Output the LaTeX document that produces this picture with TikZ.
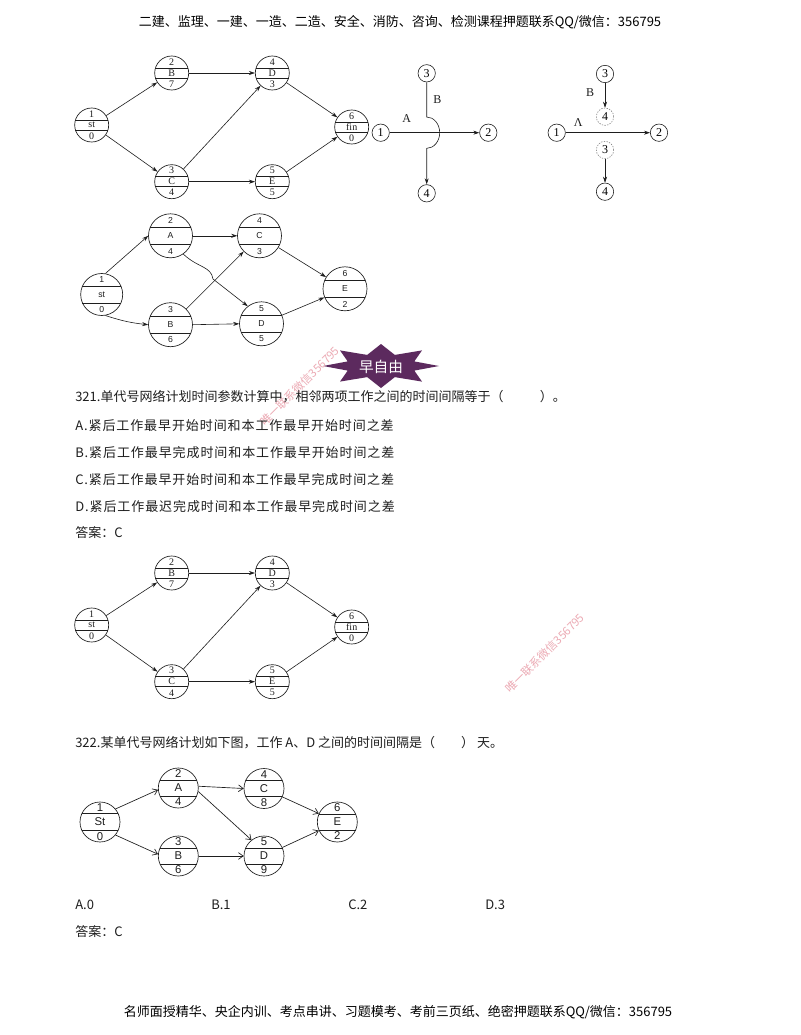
\documentclass[tikz,border=0pt]{standalone}
\usepackage{fontspec}
\newfontfamily\cjk{Noto Sans CJK SC}
\newfontfamily\cjkwide{Noto Sans CJK SC}[LetterSpace=7]
\newfontfamily\tms{Liberation Serif}
\newfontfamily\ars{Liberation Sans}
\usetikzlibrary{arrows.meta,calc}
\definecolor{starcol}{RGB}{92,42,94}
\definecolor{wmark}{RGB}{236,170,180}
\definecolor{inkc}{RGB}{30,30,30}
\tikzset{
  arrA/.style={-{Stealth[length=4.5pt,width=3pt]}, line width=0.45pt, draw=inkc},
  arrO/.style={-{Straight Barb[length=3.5pt,width=5pt]}, line width=0.5pt, draw=inkc},
  smallc/.style={draw=inkc, circle, inner sep=0pt, minimum size=13pt, line width=0.45pt, font=\tms\fontsize{9}{10}\selectfont},
  dashc/.style={smallc, draw=gray, dash pattern=on 1pt off 1pt},
  lbl/.style={inner sep=0pt, font=\tms\fontsize{9}{10}\selectfont, text=inkc},
  body/.style={anchor=west, inner sep=0pt, font=\cjk\fontsize{9.75}{11}\selectfont, text=inkc},
  bodyw/.style={anchor=west, inner sep=0pt, font=\cjkwide\fontsize{9.75}{11}\selectfont, text=inkc},
  wm/.style={rotate=45, inner sep=0pt, text=wmark, font=\cjk\fontsize{8.5}{9}\selectfont}
}
% name, x, y, r, d, top, mid, bot, font
\newcommand\actnode[9]{%
  \node[draw=inkc, circle, inner sep=0pt, minimum size={2*#4*0.75pt}, line width=0.5pt] (#1) at (#2,#3) {};
  \pgfmathsetmacro\hw{sqrt((#4)*(#4)-(#5)*(#5))}%
  \pgfmathsetmacro\ty{((#4)+(#5))/2}%
  \draw[line width=0.5pt, draw=inkc] ({#2-\hw},{#3-#5}) -- ({#2+\hw},{#3-#5});
  \draw[line width=0.5pt, draw=inkc] ({#2-\hw},{#3+#5}) -- ({#2+\hw},{#3+#5});
  \node[font={#9}, inner sep=0pt, text=inkc] at (#2,{#3-\ty}) {#6};
  \node[font={#9}, inner sep=0pt, text=inkc] at (#2,#3) {#7};
  \node[font={#9}, inner sep=0pt, text=inkc] at (#2,{#3+\ty}) {#8};
}
\newcommand\netone[2]{%
  \actnode{#1s}{91.7}{125+#2}{17}{5}{1}{st}{0}{\tms\fontsize{7.5}{8}\selectfont}
  \actnode{#1b}{171.7}{73+#2}{17}{5}{2}{B}{7}{\tms\fontsize{7.5}{8}\selectfont}
  \actnode{#1d}{272.3}{73+#2}{17}{5}{4}{D}{3}{\tms\fontsize{7.5}{8}\selectfont}
  \actnode{#1f}{351.7}{127+#2}{17}{5}{6}{fin}{0}{\tms\fontsize{7.5}{8}\selectfont}
  \actnode{#1c}{171.7}{181.7+#2}{17}{5}{3}{C}{4}{\tms\fontsize{7.5}{8}\selectfont}
  \actnode{#1e}{272.3}{181.7+#2}{17}{5}{5}{E}{5}{\tms\fontsize{7.5}{8}\selectfont}
  \draw[arrA] (#1s) -- (#1b);
  \draw[arrA] (#1s) -- (#1c);
  \draw[arrA] (#1b) -- (#1d);
  \draw[arrA] (#1c) -- (#1d);
  \draw[arrA] (#1c) -- (#1e);
  \draw[arrA] (#1d) -- (#1f);
  \draw[arrA] (#1e) -- (#1f);
}
\begin{document}
\begin{tikzpicture}[x=0.75pt,y=-0.75pt]
\useasboundingbox (0,0) rectangle (800,1035);
\fill[white] (0,0) rectangle (800,1035);

% header
\node[inner sep=0pt, font=\cjk\fontsize{9.75}{11}\selectfont, text=black] (hdr) at (400,22) {二建、监理、一建、一造、二造、安全、消防、咨询、检测课程押题联系QQ/微信：356795};

% diagram 1
\netone{p}{0}

% diagram 2 (crossing with arc)
\node[smallc] (q1) at (380.7,132.7) {1};
\node[smallc] (q2) at (488.3,132.7) {2};
\node[smallc] (q3) at (426.7,73.3) {3};
\node[smallc] (q4) at (426.7,193.3) {4};
\coordinate (qt) at (426.7,117);
\draw[arrA] (q1) -- (q2);
\draw[arrA] (q3) -- (qt) arc[start angle=90, end angle=-90, x radius=9.75pt, y radius=11.75pt] -- (q4);
\node[lbl] (qa) at (406.7,119) {A};
\node[lbl] (qb) at (437.3,100) {B};

% diagram 3
\node[smallc] (r1) at (556.7,132.7) {1};
\node[smallc] (r2) at (659,132.7) {2};
\node[smallc] (r3) at (605,74) {3};
\node[dashc] (r4) at (605,116.7) {4};
\node[dashc] (r5) at (605,150) {3};
\node[smallc] (r6) at (605,191.7) {4};
\draw[arrA] (r3) -- (r4);
\draw[arrA] (r1) -- (r2);
\draw[arrA] (r5) -- (r6);
\node[lbl] (rb) at (590,93) {B};
\node[lbl] (ra) at (578.3,123) {Λ};

% diagram 4
\actnode{ts}{101.7}{294.5}{21}{8.5}{1}{st}{0}{\ars\fontsize{6.5}{7}\selectfont}
\actnode{ta}{170.5}{235.8}{22}{8.5}{2}{A}{4}{\ars\fontsize{6.5}{7}\selectfont}
\actnode{tb}{170.5}{324.7}{22}{8.5}{3}{B}{6}{\ars\fontsize{6.5}{7}\selectfont}
\actnode{tc}{259.5}{235.8}{22}{8.5}{4}{C}{3}{\ars\fontsize{6.5}{7}\selectfont}
\actnode{td}{261.5}{323.8}{22}{8.5}{5}{D}{5}{\ars\fontsize{6.5}{7}\selectfont}
\actnode{te}{345}{288.8}{22}{8.5}{6}{E}{2}{\ars\fontsize{6.5}{7}\selectfont}
\draw[arrA] (ts.80) -- (ta.west);
\draw[arrA] (ts.-80) to[bend right=6] (tb.west);
\draw[arrA] (ta.east) -- (tc.west);
\draw[arrA] (ta.-55) .. controls (198,268) and (211,266) .. (213,279) -- (td.128);
\draw[arrA] (tb) -- (tc);
\draw[arrA] (tb.east) -- (td.west);
\draw[arrA] (tc) -- (te);
\draw[arrA] (td) -- (te);

% star banner
\fill[starcol] (439,366) -- (414.3,361.4) -- (422,350.4) -- (394.8,354.9) -- (381,344) -- (367.2,354.9) -- (340,350.4) -- (347.7,361.4) -- (323,366) -- (347.7,370.6) -- (340,381.6) -- (367.2,377.1) -- (381,388) -- (394.8,377.1) -- (422,381.6) -- (414.3,370.6) -- cycle;
\node[inner sep=0pt, text=white, font=\cjk\fontsize{11}{12}\selectfont] (star) at (381,367) {早自由};

% watermark 1
\node[wm] (wm1) at (300,386) {唯一联系微信356795};

% question 321
\node[body] (q321) at (75,397) {321.单代号网络计划时间参数计算中，相邻两项工作之间的时间间隔等于（\hspace{2.8em}）。};
\node[bodyw] (oa) at (75,426) {A.紧后工作最早开始时间和本工作最早开始时间之差};
\node[bodyw] (ob) at (75,453) {B.紧后工作最早完成时间和本工作最早开始时间之差};
\node[bodyw] (oc) at (75,480) {C.紧后工作最早开始时间和本工作最早完成时间之差};
\node[bodyw] (od) at (75,507) {D.紧后工作最迟完成时间和本工作最早完成时间之差};
\node[body] (ans1) at (75,533) {答案：C};

% diagram 5
\netone{u}{500}

% watermark 2
\node[wm] (wm2) at (545,653) {唯一联系微信356795};

% question 322
\node[body] (q322) at (75,743) {322.某单代号网络计划如下图，工作 A、D 之间的时间间隔是（\hspace{2em}） 天。};

% diagram 6
\actnode{vs}{100}{822}{20}{8.5}{1}{St}{0}{\ars\fontsize{8.5}{9}\selectfont}
\actnode{va}{178.3}{788}{20}{8}{2}{A}{4}{\ars\fontsize{8.5}{9}\selectfont}
\actnode{vb}{178.3}{856}{20}{8}{3}{B}{6}{\ars\fontsize{8.5}{9}\selectfont}
\actnode{vc}{264}{788.5}{20}{8}{4}{C}{8}{\ars\fontsize{8.5}{9}\selectfont}
\actnode{vd}{264}{856}{20}{8}{5}{D}{9}{\ars\fontsize{8.5}{9}\selectfont}
\actnode{ve}{337.3}{822}{20}{8}{6}{E}{2}{\ars\fontsize{8.5}{9}\selectfont}
\draw[arrO] (vs.40) -- (va.185);
\draw[arrO] (vs.-40) -- (vb.175);
\draw[arrO] (va.5) -- (vc.west);
\draw[arrO] (va.-10) -- (vd.128);
\draw[arrO] (vb.east) -- (vd.west);
\draw[arrO] (vc) -- (ve);
\draw[arrO] (vd) -- (ve);

% options 322
\node[body] (pa) at (75,905) {A.0};
\node[body] (pb) at (211,905) {B.1};
\node[body] (pc) at (348,905) {C.2};
\node[body] (pd) at (485,905) {D.3};
\node[body] (ans2) at (75,932) {答案：C};

% footer
\node[inner sep=0pt, font=\cjk\fontsize{9.75}{11}\selectfont, text=black] (ftr) at (398,1012) {名师面授精华、央企内训、考点串讲、习题模考、考前三页纸、绝密押题联系QQ/微信：356795};
\end{tikzpicture}
\end{document}
